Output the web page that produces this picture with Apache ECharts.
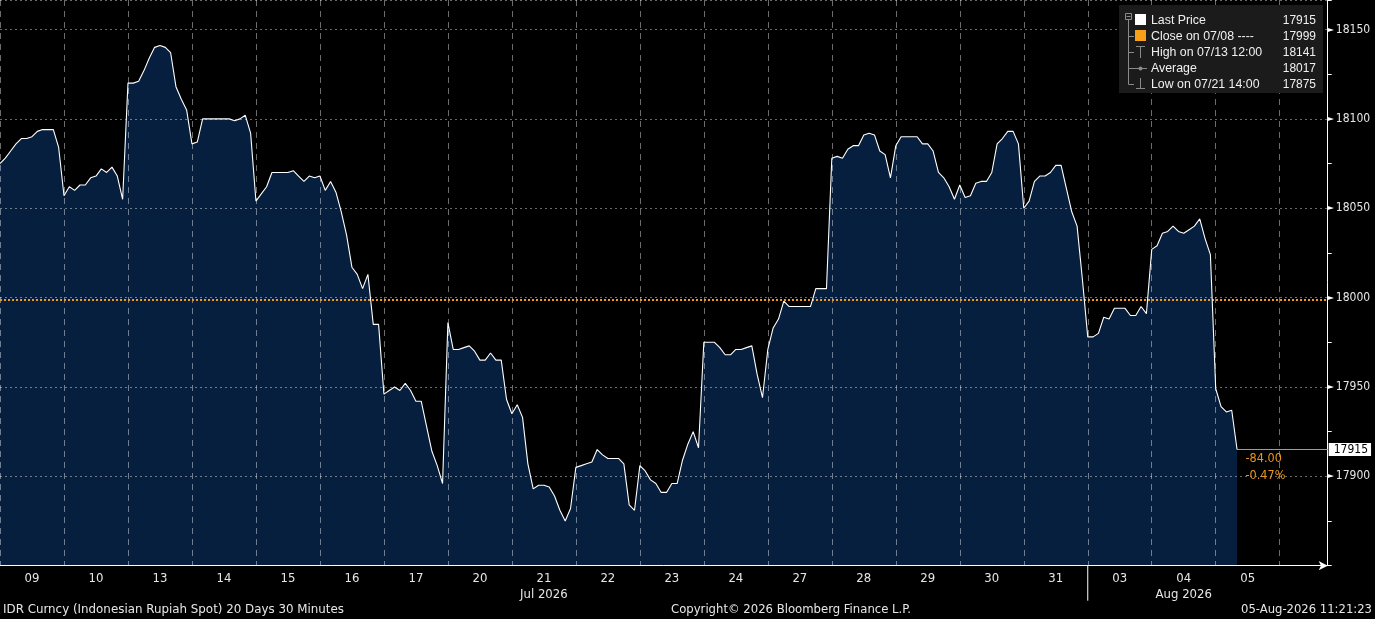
<!DOCTYPE html>
<html><head><meta charset="utf-8">
<script src="https://cdn.jsdelivr.net/npm/echarts@6/dist/echarts.min.js"></script>
<style>html,body{margin:0;padding:0;background:#000;overflow:hidden}#c{width:1375px;height:619px;}</style>
</head><body><div id="c"></div>
<script>
// ---- data ----
const dayLabels = ['09','10','13','14','15','16','17','20','21','22','23','24','27','28','29','30','31','03','04','05'];
const monthLabels = { '21': 'Jul 2026', '04': 'Aug 2026' };
const monthBreakDay = '03';
const pointsPerDay = 12;           // 30-minute bars per session
const axisSlots = 249;             // width of the time axis in bars
const prices = [
  // 09
  18075,18078,18082,18086,18089,18089,18090,18093,18094,18094,18094,18084,
  // 10
  18057,18062,18060,18063,18063,18067,18068,18072,18070,18073,18068,18055,
  // 13
  18120,18120,18121,18127,18134,18140,18141,18140,18137,18118,18111,18105,
  // 14
  18086,18087,18100,18100,18100,18100,18100,18100,18099,18100,18102,18092,
  // 15
  18054,18058,18062,18070,18070,18070,18070,18071,18068,18065,18068,18067,
  // 16
  18068,18060,18065,18059,18048,18035,18017,18013,18005,18013,17985,17985,
  // 17
  17946,17948,17950,17948,17952,17948,17942,17942,17928,17914,17906,17896,
  // 20
  17986,17971,17971,17972,17973,17970,17965,17965,17969,17965,17965,17943,
  // 21
  17935,17940,17933,17907,17893,17895,17895,17894,17889,17881,17875,17882,
  // 22
  17905,17906,17907,17908,17915,17912,17910,17910,17910,17907,17884,17881,
  // 23
  17906,17903,17898,17896,17891,17891,17896,17896,17909,17918,17925,17916,
  // 24
  17975,17975,17975,17972,17968,17968,17971,17971,17972,17973,17957,17944,
  // 27
  17971,17983,17988,17998,17995,17995,17995,17995,17995,18005,18005,18005,
  // 28
  18078,18079,18078,18083,18085,18085,18091,18092,18091,18082,18080,18067,
  // 29
  18085,18090,18090,18090,18090,18086,18086,18082,18070,18067,18062,18055,
  // 30
  18063,18056,18057,18064,18065,18065,18070,18086,18089,18093,18093,18086,
  // 31
  18050,18054,18065,18068,18068,18070,18074,18074,18061,18048,18040,18010,
  // 03
  17978,17978,17980,17989,17988,17994,17994,17994,17990,17990,17995,17991,
  // 04
  18027,18029,18036,18037,18040,18037,18036,18038,18040,18044,18033,18024,
  // 05
  17949,17939,17936,17937,17915
];
const closePrice = 17999;
const yTicks = { min: 17850, max: 18166.5, step: 50, minorStep: 25 };
const legendNames = ['Last Price', 'Close on 07/08 ----', 'High on 07/13 12:00', 'Average', 'Low on 07/21 14:00'];
const legendValues = ['17915', '17999', '18141', '18017', '17875'];
const footerLeft = 'IDR Curncy (Indonesian Rupiah Spot) 20 Days 30 Minutes';
const footerMid = 'Copyright\u00A9 2026 Bloomberg Finance L.P.';
const footerRight = '05-Aug-2026 11:21:23';

// ---- chart ----
const FONT = "'DejaVu Sans Condensed','Liberation Sans',sans-serif";
const FONT2 = "'Liberation Sans',Arial,sans-serif";
const seriesData = prices.map((v, i) => [i, v]);
const lastIdx = prices.length - 1;
const last = prices[lastIdx];
const chg = last - closePrice;
const chgPct = chg / closePrice * 100;
const gridC = 'rgba(255,255,255,0.42)';

const chart = echarts.init(document.getElementById('c'), null, { renderer: 'canvas' });
const option = {
  backgroundColor: '#000',
  animation: false,
  grid: { left: 0, right: 47.3, top: 0, bottom: 53.3, containLabel: false, outerBoundsMode: 'none' },
  xAxis: [
    {
      type: 'value', min: 0, max: axisSlots, interval: pointsPerDay / 2, position: 'bottom', z: 3,
      axisLine: { show: true, onZero: false, lineStyle: { color: '#fff', width: 1 }, symbol: ['none', 'arrow'], symbolSize: [7, 9] },
      axisTick: { show: false },
      splitLine: { show: false },
      axisLabel: {
        show: true, showMinLabel: true, showMaxLabel: false, margin: 5, color: '#e6e6e6',
        fontFamily: FONT, fontSize: 13, lineHeight: 16,
        formatter: v => {
          if (v % pointsPerDay !== pointsPerDay / 2) return '';
          const d = dayLabels[(v - pointsPerDay / 2) / pointsPerDay];
          if (!d) return '';
          return monthLabels[d] ? d + '\n' + monthLabels[d] : d;
        }
      }
    },
    {
      type: 'value', min: 0, max: axisSlots, interval: pointsPerDay, position: 'bottom', z: 3,
      axisLine: { show: false, onZero: false }, axisTick: { show: false }, axisLabel: { show: false },
      splitLine: { show: true, lineStyle: { color: gridC, type: [6, 5], width: 1 } }
    }
  ],
  yAxis: [
    {
      type: 'value', position: 'right', min: yTicks.min, max: yTicks.max, interval: yTicks.step, z: 3,
      axisLine: { show: true, onZero: false, lineStyle: { color: '#fff', width: 1 } },
      axisTick: { show: false },
      splitLine: { show: true, lineStyle: { color: gridC, type: [2, 3], width: 1 } },
      axisLabel: {
        showMinLabel: false, showMaxLabel: false, margin: 0, color: '#e6e6e6', fontFamily: FONT, fontSize: 12,
        formatter: v => '{t|\u25BA}{v|' + v + '}',
        rich: {
          t: { fontSize: 8, color: '#fff', fontFamily: "'DejaVu Sans',sans-serif", padding: [0, 2, 0, 0] },
          v: { fontSize: 12, color: '#e6e6e6', fontFamily: FONT }
        }
      }
    },
    {
      type: 'value', position: 'right', min: yTicks.min, max: yTicks.max, interval: yTicks.minorStep, z: 3,
      axisLine: { show: false, onZero: false }, splitLine: { show: false }, axisLabel: { show: false },
      axisTick: { show: true, length: 4, inside: false, lineStyle: { color: '#fff' } }
    }
  ],
  series: [
    {
      type: 'line', data: seriesData, showSymbol: false, silent: true, z: 1,
      lineStyle: { width: 0 }, areaStyle: { color: '#061f3e', opacity: 1, origin: 'start' }
    },
    {
      type: 'line', data: seriesData, showSymbol: false, silent: true, z: 5,
      lineStyle: { color: '#ffffff', width: 1.1 },
      markLine: {
        symbol: 'none', silent: true, animation: false,
        data: [
          { yAxis: closePrice, lineStyle: { color: '#f29a1f', type: [2, 2], width: 2 }, label: { show: false } },
          [
            { coord: [lastIdx, last], lineStyle: { color: '#e8901a', type: 'solid', width: 1 },
              label: { show: true, position: 'end', distance: 1, formatter: () => String(last),
                backgroundColor: '#ffffff', color: '#000', padding: [1, 3, 0, 5], fontFamily: FONT, fontSize: 12 } },
            { coord: [axisSlots, last] }
          ]
        ]
      },
      markPoint: {
        silent: true, animation: false,
        data: [{
          coord: [lastIdx, last], symbol: 'circle', symbolSize: 1, itemStyle: { color: 'rgba(0,0,0,0)' },
          label: {
            show: true, position: [9, 1], color: '#e8961e', fontFamily: FONT, fontSize: 12.5, lineHeight: 17, align: 'left',
            formatter: () => chg.toFixed(2) + '\n' + chgPct.toFixed(2) + '%'
          }
        }]
      }
    }
  ]
};
chart.setOption(option);

// ---- decorations (legend box, footer, month separator) ----
const sepX = chart.convertToPixel({ xAxisIndex: 0 }, dayLabels.indexOf(monthBreakDay) * pointsPerDay);
const axisY = chart.convertToPixel({ yAxisIndex: 0 }, yTicks.min);
const mctx = document.createElement('canvas').getContext('2d');
function fitScale(text, font, target) { mctx.font = font; const w = mctx.measureText(text).width; return w > 0 ? target / w : 1; }
const g = [];
g.push({ type: 'line', shape: { x1: sepX, y1: axisY, x2: sepX, y2: axisY + 35 }, style: { stroke: '#fff', lineWidth: 1 }, z: 10 });
// legend box
const LX = 1119, LY = 5;
g.push({ type: 'rect', shape: { x: LX, y: LY, width: 204, height: 88 }, style: { fill: '#1b1b1b' }, z: 20 });
const rowY = [20, 36, 52, 68, 84];
const LF = '13px ' + FONT2;
legendNames.forEach((n, i) => {
  g.push({ type: 'text', x: 1151, y: rowY[i], scaleX: 0.95, style: { text: n, fill: '#f0f0f0', font: LF, textVerticalAlign: 'middle', verticalAlign: 'middle' }, z: 22 });
  g.push({ type: 'text', x: 1316, y: rowY[i], scaleX: 0.92, style: { text: legendValues[i], fill: '#f0f0f0', font: LF, align: 'right', textAlign: 'right', verticalAlign: 'middle', textVerticalAlign: 'middle' }, z: 22 });
});
const tc = '#8a8a8a';
// tree
g.push({ type: 'rect', shape: { x: 1125.5, y: 13.5, width: 6, height: 6 }, style: { fill: 'none', stroke: tc, lineWidth: 1 }, z: 21 });
g.push({ type: 'line', shape: { x1: 1126.5, y1: 16.5, x2: 1130.5, y2: 16.5 }, style: { stroke: tc }, z: 21 });
g.push({ type: 'line', shape: { x1: 1128.5, y1: 20, x2: 1128.5, y2: 84.5 }, style: { stroke: tc }, z: 21 });
[36, 52, 68, 84].forEach(y => g.push({ type: 'line', shape: { x1: 1128.5, y1: y + 0.5, x2: 1134, y2: y + 0.5 }, style: { stroke: tc }, z: 21 }));
// icons
g.push({ type: 'rect', shape: { x: 1135, y: 14, width: 11, height: 11 }, style: { fill: '#ffffff' }, z: 21 });
g.push({ type: 'rect', shape: { x: 1135, y: 30, width: 11, height: 11 }, style: { fill: '#f7a11a' }, z: 21 });
g.push({ type: 'line', shape: { x1: 1136, y1: 46.5, x2: 1145, y2: 46.5 }, style: { stroke: tc }, z: 21 });
g.push({ type: 'line', shape: { x1: 1140.5, y1: 46.5, x2: 1140.5, y2: 58 }, style: { stroke: tc }, z: 21 });
g.push({ type: 'line', shape: { x1: 1134, y1: 68.5, x2: 1147, y2: 68.5 }, style: { stroke: tc }, z: 21 });
g.push({ type: 'circle', shape: { cx: 1140.5, cy: 68.5, r: 2 }, style: { fill: tc }, z: 21 });
g.push({ type: 'line', shape: { x1: 1140.5, y1: 78, x2: 1140.5, y2: 88.5 }, style: { stroke: tc }, z: 21 });
g.push({ type: 'line', shape: { x1: 1136, y1: 88.5, x2: 1145, y2: 88.5 }, style: { stroke: tc }, z: 21 });
// footer
const FF = '13px ' + FONT;
g.push({ type: 'text', x: 3, y: 610, scaleX: fitScale(footerLeft, FF, 341), style: { text: footerLeft, fill: '#e6e6e6', font: FF, verticalAlign: 'middle', textVerticalAlign: 'middle' }, z: 10 });
g.push({ type: 'text', x: 791, y: 610, scaleX: fitScale(footerMid, FF, 240), style: { text: footerMid, fill: '#e6e6e6', font: FF, align: 'center', textAlign: 'center', verticalAlign: 'middle', textVerticalAlign: 'middle' }, z: 10 });
g.push({ type: 'text', x: 1372, y: 610, scaleX: fitScale(footerRight, FF, 131), style: { text: footerRight, fill: '#e6e6e6', font: FF, align: 'right', textAlign: 'right', verticalAlign: 'middle', textVerticalAlign: 'middle' }, z: 10 });
chart.setOption({ graphic: g });
</script>
</body></html>
